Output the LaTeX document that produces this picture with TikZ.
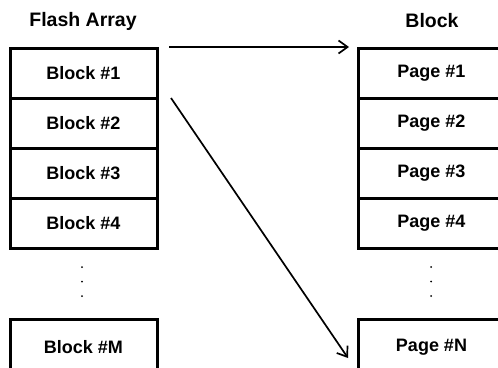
\documentclass[tikz,border=0pt]{standalone}
\usepackage{fontspec}
\setmainfont{Liberation Sans}
\usetikzlibrary{arrows.meta}
\begin{document}
\begin{tikzpicture}[x=1pt,y=-1pt,
  cell/.style={draw, line width=3pt, minimum width=147pt, minimum height=50pt,
    inner sep=0pt, font=\bfseries\fontsize{18}{20}\selectfont},
  lastcell/.style={cell, minimum height=56pt},
  title/.style={font=\bfseries\fontsize{19.5}{21}\selectfont, inner sep=0pt},
  arr/.style={line width=1.7pt, -{Straight Barb[length=9pt,width=13pt,line width=1.7pt]}},
  vdot/.style={circle, fill, inner sep=0pt, minimum size=2pt}]
\useasboundingbox (0,0) rectangle (498,367);
\clip (0,0) rectangle (498,367);
% titles
\node[title] (tl) at (83,21) {Flash Array};
\node[title] (tr) at (432,21) {Block};
% left column
\node[cell] (b1) at (83.5,73) {Block \#1};
\node[cell] (b2) at (83.5,123) {Block \#2};
\node[cell] (b3) at (83.5,173) {Block \#3};
\node[cell] (b4) at (83.5,223.5) {Block \#4};
\node[lastcell] (bm) at (83.5,347) {Block \#M};
% right column
\node[cell] (p1) at (431.5,73) {Page \#1};
\node[cell] (p2) at (431.5,123) {Page \#2};
\node[cell] (p3) at (431.5,173) {Page \#3};
\node[cell] (p4) at (431.5,223.5) {Page \#4};
\node[lastcell] (pn) at (431.5,347) {Page \#N};
% vertical dots
\node[vdot] (ld1) at (82,267) {};
\node[vdot] (ld2) at (82,281.5) {};
\node[vdot] (ld3) at (82,296) {};
\node[vdot] (rd1) at (431,267) {};
\node[vdot] (rd2) at (431,281.5) {};
\node[vdot] (rd3) at (431,296) {};
% arrows
\coordinate (a1s) at (169,47);
\coordinate (a1e) at (349,47);
\coordinate (a2s) at (171,98);
\coordinate (a2e) at (348,358);
\draw[arr] (a1s) -- (a1e);
\draw[arr] (a2s) -- (a2e);
\end{tikzpicture}
\end{document}
